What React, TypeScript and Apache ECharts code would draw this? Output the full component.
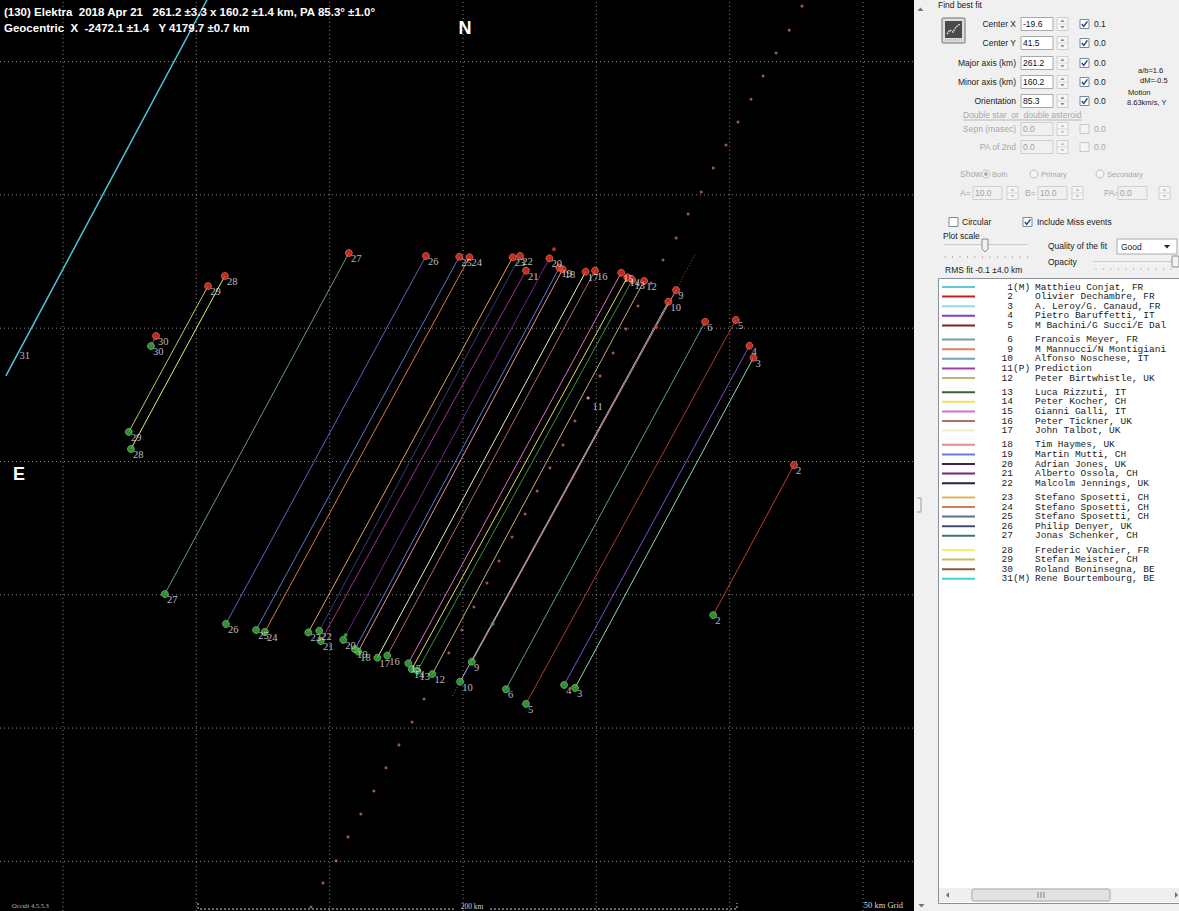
import React, { useEffect, useRef } from "react";
import * as echarts from "echarts";

// ---- plot extents (km) ----
const X_MIN = -173.6;
const X_MAX = 169.1;
const Y_MIN = -168.6;
const Y_MAX = 173.1;
const gridKm = [-150, -100, -50, 0, 50, 100, 150];

// ---- chords (km): red = top end, green = bottom end ----
const chordIds = ["2", "3", "4", "5", "6", "9", "10", "12", "13", "14", "15", "16", "17", "18", "19", "20", "21", "22", "23", "24", "25", "26", "27", "28", "29", "30"];
const redX = [124.1, 108.9, 107.4, 102.3, 90.8, 79.9, 77.0, 67.9, 63.5, 61.6, 59.3, 49.5, 46.0, 37.4, 36.1, 32.4, 23.6, 21.4, 18.6, 2.4, -1.4, -13.9, -42.8, -89.3, -95.6, -115.1];
const redY = [-1.3, 38.9, 43.4, 53.1, 52.4, 64.3, 59.9, 67.7, 68.1, 69.1, 70.8, 71.6, 71.2, 72.1, 72.7, 76.2, 71.6, 77.1, 76.6, 76.6, 76.8, 77.1, 78.2, 69.6, 65.8, 47.1];
const greenX = [93.8, 42.0, 37.9, 23.6, 16.1, 3.3, -1.1, -11.5, -17.1, -19.2, -20.5, -28.4, -32.1, -39.3, -40.5, -44.9, -53.3, -53.9, -58.0, -74.3, -77.6, -88.9, -111.8, -124.5, -125.3, -117.0];
const greenY = [-57.6, -84.9, -83.8, -90.9, -85.4, -75.1, -82.6, -79.7, -78.5, -77.9, -75.7, -72.8, -73.6, -71.3, -70.4, -66.9, -67.3, -63.5, -64.1, -63.9, -63.2, -60.9, -49.7, 4.7, 11.1, 43.3];
const chordColors = ["#c0392b", "#8fd8b8", "#7a4fd0", "#a83c32", "#5f9ea0", "#e0876a", "#a8b4e0", "#c8b070", "#3f8f3f", "#e8e050", "#e070c0", "#b06868", "#e8f0b0", "#e89090", "#5878d8", "#6a2a8a", "#a03090", "#3a3a7a", "#d8a850", "#e07840", "#5a78c0", "#6060c8", "#6a9a7a", "#f0e868", "#b8c868", "#8a6a30"];

// ---- miss chord 31 (km) ----
const missX = [-96.0, -171.4];
const missY = [173.1, 32.1];

// ---- prediction (11) dotted track (km) ----
const predX = [127.1, 122.3, 117.4, 112.5, 108.0, 103.1, 98.6, 93.8, 89.3, 84.4, 79.9, 75.0, 70.5, 65.6, 61.1, 56.3, 51.4, 46.9, 42.0, 37.5, 32.6, 27.8, 23.3, 18.4, 13.5, 9.0, 4.1, -0.4, -5.3, -14.6, -19.1, -24.0, -28.9, -33.4, -38.3, -43.1, -47.6, -52.5, -57.0];
const predY = [170.8, 161.8, 153.2, 144.6, 135.9, 127.3, 118.7, 110.1, 101.1, 92.8, 83.8, 75.6, 66.9, 58.3, 49.7, 40.7, 32.1, 23.8, 15.2, 6.2, -2.4, -11.1, -19.7, -28.3, -37.3, -45.6, -54.6, -63.2, -71.8, -89.1, -97.7, -106.3, -114.9, -123.6, -132.2, -140.8, -149.8, -158.1, -167.1];

// ---- short extensions / extra marks (km) ----
const ext9X = [79.9, 87.0];
const ext9Y = [64.3, 77.8];
const ext10X = [-1.1, -4.1];
const ext10Y = [-82.6, -88.3];
const extraRedX = [34.1, 72.4];
const extraRedY = [79.6, 50.4];
const extraGreenX = [11.1, -44.0];
const extraGreenY = [-60.9, -65.1];

// ---- legend list ----
const legendNums = ["1", "2", "3", "4", "5", "6", "9", "10", "11", "12", "13", "14", "15", "16", "17", "18", "19", "20", "21", "22", "23", "24", "25", "26", "27", "28", "29", "30", "31"];
const legendTags = ["(M)", "", "", "", "", "", "", "", "(P)", "", "", "", "", "", "", "", "", "", "", "", "", "", "", "", "", "", "", "", "(M)"];
const legendNames = ["Matthieu Conjat, FR", "Olivier Dechambre, FR", "A. Leroy/G. Canaud, FR", "Pietro Baruffetti, IT", "M Bachini/G Succi/E Dal", "Francois Meyer, FR", "M Mannucci/N Montigiani", "Alfonso Noschese, IT", "Prediction", "Peter Birtwhistle, UK", "Luca Rizzuti, IT", "Peter Kocher, CH", "Gianni Galli, IT", "Peter Tickner, UK", "John Talbot, UK", "Tim Haymes, UK", "Martin Mutti, CH", "Adrian Jones, UK", "Alberto Ossola, CH", "Malcolm Jennings, UK", "Stefano Sposetti, CH", "Stefano Sposetti, CH", "Stefano Sposetti, CH", "Philip Denyer, UK", "Jonas Schenker, CH", "Frederic Vachier, FR", "Stefan Meister, CH", "Roland Boninsegna, BE", "Rene Bourtembourg, BE"];
const legendColors = ["#60c8d8", "#c02020", "#90e0e0", "#8040c0", "#802020", "#70a0a0", "#e08060", "#70a0c0", "#a040a0", "#c0b080", "#406040", "#f0e060", "#d070d0", "#b07070", "#f0f0c0", "#e09090", "#6080d0", "#402050", "#802080", "#202040", "#e0b060", "#d08050", "#607090", "#405070", "#407070", "#f0f070", "#c0c060", "#806030", "#40d0e0"];

// ---- panel texts ----
const titleLine1 = "(130) Elektra  2018 Apr 21   261.2 ±3.3 x 160.2 ±1.4 km, PA 85.3° ±1.0°";
const titleLine2 = "Geocentric  X  -2472.1 ±1.4   Y 4179.7 ±0.7 km";
const fitLabels = ["Center X", "Center Y", "Major axis (km)", "Minor axis (km)", "Orientation"];
const fitValues = ["-19.6", "41.5", "261.2", "160.2", "85.3"];
const fitSteps = ["0.1", "0.0", "0.0", "0.0", "0.0"];

const SANS = '"Liberation Sans", Arial, sans-serif';

function T(x: number, y: number, text: string, o: any = {}) {
  return {
    type: "text", x, y, silent: true, z: 100,
    style: {
      text, fill: o.fill ?? "#1a1a1a",
      font: o.font ?? `8.5px ${SANS}`,
      textAlign: o.align ?? "left",
      textVerticalAlign: o.valign ?? "middle",
    },
  };
}
function R(x: number, y: number, w: number, h: number, fill: string, stroke?: string, r = 0) {
  return { type: "rect", silent: true, z: 100, shape: { x, y, width: w, height: h, r }, style: { fill, stroke: stroke ?? null, lineWidth: 1 } };
}
function L(x1: number, y1: number, x2: number, y2: number, stroke: string, lw = 1, dash?: number[]) {
  return { type: "line", silent: true, z: 100, shape: { x1, y1, x2, y2 }, style: { stroke, lineWidth: lw, lineDash: dash ?? null } };
}
function PG(points: number[][], fill: string) {
  return { type: "polygon", silent: true, z: 100, shape: { points }, style: { fill } };
}
function PL(points: number[][], stroke: string, lw = 1, dash?: number[]) {
  return { type: "polyline", silent: true, z: 100, shape: { points }, style: { stroke, lineWidth: lw, fill: null, lineDash: dash ?? null } };
}
function checkbox(x: number, y: number, checked: boolean, disabled = false) {
  const els: any[] = [R(x, y - 4.5, 9, 9, disabled ? "#f4f4f4" : "#fff", disabled ? "#c8c8c8" : "#7a8a99")];
  if (checked) els.push(PL([[x + 1.8, y], [x + 3.8, y + 2.4], [x + 7.4, y - 2.6]], "#24468c", 1.5));
  return els;
}
function spinner(x: number, y: number, disabled = false) {
  const c = disabled ? "#c0c0c0" : "#8a8a8a";
  return [
    R(x, y - 6.5, 11, 13, "#f6f6f6", "#cfcfcf"),
    L(x, y, x + 11, y, "#d8d8d8"),
    PG([[x + 3.5, y - 2], [x + 7.5, y - 2], [x + 5.5, y - 4.5]], c),
    PG([[x + 3.5, y + 2], [x + 7.5, y + 2], [x + 5.5, y + 4.5]], c),
  ];
}
function input(x: number, y: number, w: number, val: string, disabled = false) {
  return [
    R(x, y - 6.5, w, 13, disabled ? "#f0f0f0" : "#fff", disabled ? "#cfcfcf" : "#a9a9a9"),
    T(x + 2, y, val, { fill: disabled ? "#a0a0a0" : "#111" }),
  ];
}

function buildGraphic() {
  const g: any[] = [];
  // plot overlay texts
  g.push(T(4, 12, titleLine1, { fill: "#fff", font: `bold 11.5px ${SANS}` }));
  g.push(T(4, 28, titleLine2, { fill: "#fff", font: `bold 11.5px ${SANS}` }));
  g.push(T(465, 28, "N", { fill: "#fff", font: `bold 18px ${SANS}`, align: "center" }));
  g.push(T(19, 474, "E", { fill: "#fff", font: `bold 18px ${SANS}`, align: "center" }));
  g.push(T(12, 905, "Occult 4.5.5.3", { fill: "#bdbdbd", font: `6.5px "Liberation Serif", serif` }));
  g.push(PL([[198, 903], [198, 909], [455, 909]], "#cfcfcf", 1, [2, 2]));
  g.push(PL([[490, 909], [737, 909], [737, 903]], "#cfcfcf", 1, [2, 2]));
  g.push(T(472, 906, "200 km", { fill: "#d0d0d0", font: `7.5px "Liberation Serif", serif`, align: "center" }));
  g.push(T(903, 905, "50 km Grid", { fill: "#d8d8d8", font: `8.5px "Liberation Serif", serif`, align: "right" }));

  // vertical scroll strip between plot and panel
  g.push(PG([[917.5, 11], [923.5, 11], [920.5, 7.5]], "#707070"));
  g.push(PG([[918.5, 904], [924.5, 904], [921.5, 907.5]], "#707070"));
  g.push(PL([[917, 498], [921, 498], [921, 512], [917, 512]], "#a0a0a0"));

  // find best fit
  g.push(T(938, 5, "Find best fit"));
  g.push(R(942, 18, 23, 25, "#dedede", "#707070", 1));
  g.push(R(945, 21, 17, 17, "#4a4a4a"));
  g.push(PL([[947, 34], [950, 30], [953, 32], [956, 27], [960, 24]], "#e6e6e6", 1.5, [1.5, 1]));
  g.push(L(945, 40, 962, 40, "#9a9a9a", 1, [1, 1]));
  const rowY = [24, 43, 63, 82, 101];
  fitLabels.forEach((lab, i) => {
    const y = rowY[i];
    g.push(T(1016, y, lab, { align: "right" }));
    g.push(...input(1021, y, 32, fitValues[i]));
    g.push(...spinner(1057, y));
    g.push(...checkbox(1080, y, true));
    g.push(T(1094, y, fitSteps[i]));
  });
  g.push(T(1138, 70, "a/b=1.6", { font: `7.5px ${SANS}` }));
  g.push(T(1140, 80, "dM=-0.5", { font: `7.5px ${SANS}` }));
  g.push(T(1128, 92, "Motion", { font: `7.5px ${SANS}` }));
  g.push(T(1127, 102, "8.63km/s, Y", { font: `7.5px ${SANS}` }));

  const grey = "#a8a8a8";
  g.push(T(963, 115, "Double star  or  double asteroid", { fill: grey }));
  g.push(L(963, 120, 1082, 120, "#b8b8b8"));
  g.push(T(1016, 129, "Sepn (masec)", { fill: grey, align: "right" }));
  g.push(...input(1021, 129, 32, "0.0", true));
  g.push(...spinner(1057, 129, true));
  g.push(...checkbox(1080, 129, false, true));
  g.push(T(1094, 129, "0.0", { fill: grey }));
  g.push(T(1016, 147, "PA of 2nd", { fill: grey, align: "right" }));
  g.push(...input(1021, 147, 32, "0.0", true));
  g.push(...spinner(1057, 147, true));
  g.push(...checkbox(1080, 147, false, true));
  g.push(T(1094, 147, "0.0", { fill: grey }));

  g.push(T(960, 174, "Show:", { fill: grey }));
  g.push({ type: "circle", silent: true, z: 100, shape: { cx: 986, cy: 174, r: 4 }, style: { fill: "#f4f4f4", stroke: "#c0c0c0" } });
  g.push({ type: "circle", silent: true, z: 100, shape: { cx: 986, cy: 174, r: 2 }, style: { fill: "#b0b0b0" } });
  g.push(T(992, 174, "Both", { fill: grey, font: `7.5px ${SANS}` }));
  g.push({ type: "circle", silent: true, z: 100, shape: { cx: 1034, cy: 174, r: 4 }, style: { fill: "#f4f4f4", stroke: "#c0c0c0" } });
  g.push(T(1041, 174, "Primary", { fill: grey, font: `7.5px ${SANS}` }));
  g.push({ type: "circle", silent: true, z: 100, shape: { cx: 1100, cy: 174, r: 4 }, style: { fill: "#f4f4f4", stroke: "#c0c0c0" } });
  g.push(T(1107, 174, "Secondary", { fill: grey, font: `7.5px ${SANS}` }));

  g.push(T(960, 193, "A=", { fill: grey }));
  g.push(...input(973, 193, 29, "10.0", true));
  g.push(...spinner(1007, 193, true));
  g.push(T(1025, 193, "B=", { fill: grey }));
  g.push(...input(1038, 193, 29, "10.0", true));
  g.push(...spinner(1072, 193, true));
  g.push(T(1104, 193, "PA=", { fill: grey }));
  g.push(...input(1118, 193, 29, "0.0", true));
  g.push(...spinner(1159, 193, true));

  g.push(...checkbox(949, 222, false));
  g.push(T(962, 222, "Circular"));
  g.push(...checkbox(1023, 222, true));
  g.push(T(1037, 222, "Include Miss events"));

  g.push(T(943, 236, "Plot scale"));
  g.push(L(944, 245, 1028, 245, "#b0b0b0"));
  g.push(L(944, 246, 1028, 246, "#ffffff"));
  g.push(PG([[982, 239], [988, 239], [988, 249], [985, 252], [982, 249]], "#f2f2f2"));
  g.push(PL([[982, 239], [988, 239], [988, 249], [985, 252], [982, 249], [982, 239]], "#8a8a8a"));
  for (let i = 0; i < 12; i++) g.push(L(945 + i * 7.5, 256, 945 + i * 7.5, 258, "#b8b8b8"));
  g.push(T(1048, 246, "Quality of the fit"));
  g.push(R(1117, 239, 60, 15, "#fff", "#a9a9a9"));
  g.push(T(1121, 246.5, "Good"));
  g.push(PG([[1164, 245], [1170, 245], [1167, 248.5]], "#222"));
  g.push(T(1048, 262, "Opacity"));
  g.push(L(1093, 262, 1179, 262, "#b0b0b0"));
  g.push(L(1093, 263, 1179, 263, "#ffffff"));
  g.push(R(1172, 256, 7, 11, "#f2f2f2", "#8a8a8a", 1));
  for (let i = 0; i < 11; i++) g.push(L(1096 + i * 7.5, 268, 1096 + i * 7.5, 270, "#c0c0c0"));
  g.push(T(945, 270, "RMS fit -0.1 ±4.0 km"));

  // legend list box
  g.push(R(938.5, 278.5, 245, 625, "#ffffff", "#8a8f98"));
  const MONO = '"Liberation Mono", "Courier New", monospace';
  const lf = `9.5px ${MONO}`;
  legendNames.forEach((name, i) => {
    const grp = Math.floor(i / 5);
    const y = 287 + i * 9.6 + grp * 4.6;
    g.push(L(942, y, 975, y, legendColors[i], 2));
    g.push(T(1013, y, legendNums[i], { font: lf, align: "right", fill: "#222" }));
    if (legendTags[i]) g.push(T(1013, y, legendTags[i], { font: lf, fill: "#222" }));
    g.push(T(1035, y, name, { font: lf, fill: "#222" }));
  });
  // horizontal scrollbar
  g.push(R(939, 888, 240, 14, "#efefef"));
  g.push(PG([[949, 892], [949, 898], [946, 895]], "#707070"));
  g.push(PG([[1175, 892], [1175, 898], [1178, 895]], "#707070"));
  g.push(R(972, 889, 138, 12, "#e2e2e2", "#a8a8a8", 2));
  g.push(L(1038, 892, 1038, 898, "#808080"));
  g.push(L(1041, 892, 1041, 898, "#808080"));
  g.push(L(1044, 892, 1044, 898, "#808080"));
  return g;
}

const labelStyle = {
  show: true,
  position: [6, 4] as any,
  color: "#e8e8e8",
  fontSize: 10.5,
  fontFamily: '"Liberation Serif", serif',
};

function buildSeries() {
  const s: any[] = [];
  gridKm.forEach((v) => {
    s.push({ type: "line", silent: true, symbol: "none", z: 1, data: [[v, Y_MIN], [v, Y_MAX]], lineStyle: { color: "#8a8a8a", width: 1, type: [1, 3] } });
    s.push({ type: "line", silent: true, symbol: "none", z: 1, data: [[X_MIN, v], [X_MAX, v]], lineStyle: { color: "#8a8a8a", width: 1, type: [1, 3] } });
  });
  chordIds.forEach((id, i) => {
    s.push({ type: "line", silent: true, symbol: "none", z: 2, data: [[greenX[i], greenY[i]], [redX[i], redY[i]]], lineStyle: { color: chordColors[i], width: 1 } });
  });
  s.push({ type: "line", silent: true, symbol: "none", z: 2, data: missX.map((x, i) => [x, missY[i]]), lineStyle: { color: "#48c8d8", width: 1.5 } });
  s.push({ type: "line", silent: true, symbol: "none", z: 2, data: ext9X.map((x, i) => [x, ext9Y[i]]), lineStyle: { color: "#d04030", width: 1, type: [1, 2] } });
  s.push({ type: "line", silent: true, symbol: "none", z: 2, data: ext10X.map((x, i) => [x, ext10Y[i]]), lineStyle: { color: "#40a040", width: 1, type: [1, 2] } });
  s.push({ type: "scatter", silent: true, z: 3, symbolSize: 3, data: predX.map((x, i) => [x, predY[i]]), itemStyle: { color: "#c86a6a" } });
  s.push({ type: "scatter", silent: true, z: 4, symbolSize: 3, data: [[predX[17], predY[17], "11"]], itemStyle: { color: "#d8a0a0" }, label: { ...labelStyle, formatter: (p: any) => p.data[2] } });
  s.push({ type: "scatter", silent: true, z: 4, symbolSize: 0.1, data: [[-167.4, 39.6, "31"]], itemStyle: { color: "transparent" }, label: { ...labelStyle, position: [3, -6], formatter: (p: any) => p.data[2] } });
  s.push({ type: "scatter", silent: true, z: 5, symbolSize: 7, data: redX.map((x, i) => [x, redY[i], chordIds[i]]), itemStyle: { color: "#e8352a", borderColor: "#ff7a60", borderWidth: 0.8 }, label: { ...labelStyle, formatter: (p: any) => p.data[2] } });
  s.push({ type: "scatter", silent: true, z: 5, symbolSize: 7, data: greenX.map((x, i) => [x, greenY[i], chordIds[i]]), itemStyle: { color: "#3cae3c", borderColor: "#7ad07a", borderWidth: 0.8 }, label: { ...labelStyle, formatter: (p: any) => p.data[2] } });
  s.push({ type: "scatter", silent: true, z: 5, symbolSize: 4, data: extraRedX.map((x, i) => [x, extraRedY[i]]), itemStyle: { color: "#e03a2a" } });
  s.push({ type: "scatter", silent: true, z: 5, symbolSize: 4, data: extraGreenX.map((x, i) => [x, extraGreenY[i]]), itemStyle: { color: "#3cae3c" } });
  return s;
}

export default function App() {
  const ref = useRef<HTMLDivElement>(null);
  useEffect(() => {
    document.body.style.margin = "0";
    const chart = echarts.init(ref.current!, null, { renderer: "svg" });
    chart.setOption({
      animation: false,
      backgroundColor: "#f0f0f0",
      grid: { left: 0, top: 0, width: 914, height: 911, show: true, backgroundColor: "#000000", borderWidth: 0 },
      xAxis: { type: "value", min: X_MIN, max: X_MAX, show: false, splitLine: { show: false } },
      yAxis: { type: "value", min: Y_MIN, max: Y_MAX, show: false, splitLine: { show: false } },
      series: buildSeries(),
      graphic: { elements: buildGraphic() },
    });
    return () => chart.dispose();
  }, []);
  return <div ref={ref} style={{ width: 1179, height: 911 }} />;
}
